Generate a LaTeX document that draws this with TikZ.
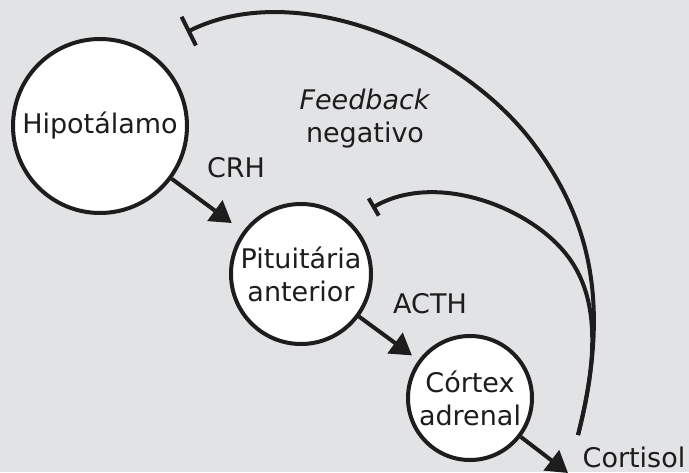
\documentclass[tikz,border=0pt]{standalone}
\usepackage{fontspec}
\setmainfont{DejaVu Sans}
\usepackage{tikz}
\usetikzlibrary{arrows.meta}
\definecolor{fundo}{RGB}{226,227,229}
\definecolor{tinta}{RGB}{30,28,29}

\begin{document}
\begin{tikzpicture}[x=1pt, y=-1pt, line width=4pt, color=tinta,
	font=\fontsize{27}{33}\selectfont,
	glandula/.style={circle, draw, fill=white, inner sep=0pt, align=center},
	estimula/.style={-{Triangle[length=21pt, width=25pt]}},
	inibe/.style={-{Bar[width=#1]}}]
			\fill[fundo] (0,0) rectangle (689,472);
			\useasboundingbox (0,0) rectangle (689,472);
			\node[glandula, minimum size=174pt] (hip) at (100,126) {Hipotálamo};
			\node[glandula, minimum size=140pt] (pit) at (301,274) {Pituitária\\anterior};
			\node[glandula, minimum size=124pt] (cor) at (470,398) {Córtex\\adrenal};
			\node[anchor=base] (crh) at (236,177) {CRH};
			\node[anchor=base] (acth) at (430,313) {ACTH};
			\node[anchor=base] (cortisol) at (634,467) {Cortisol};
			\node[align=center] (fbtexto) at (365,119) {\textit{Feedback}\\negativo};
			\coordinate (fb) at (578,435);
			\coordinate (hipfim) at (187,32);
			\coordinate (pitfim) at (372,208);
			\coordinate (cortfim) at (568,473);
			\draw[estimula, shorten >=14pt] (hip) -- (pit);
			\draw[estimula, shorten >=8pt] (pit) -- (cor);
			\draw[estimula] (cor) -- (cortfim);
			\draw[inibe=32pt] (fb) .. controls (610,309) and (593,223) .. (533,143)
				.. controls (461,47) and (297,-23) .. (hipfim);
			\draw[inibe=20pt] (fb) .. controls (603,338) and (594,283.5) .. (560,247)
				.. controls (519,203) and (432,173) .. (pitfim);
		\end{tikzpicture}
\end{document}
